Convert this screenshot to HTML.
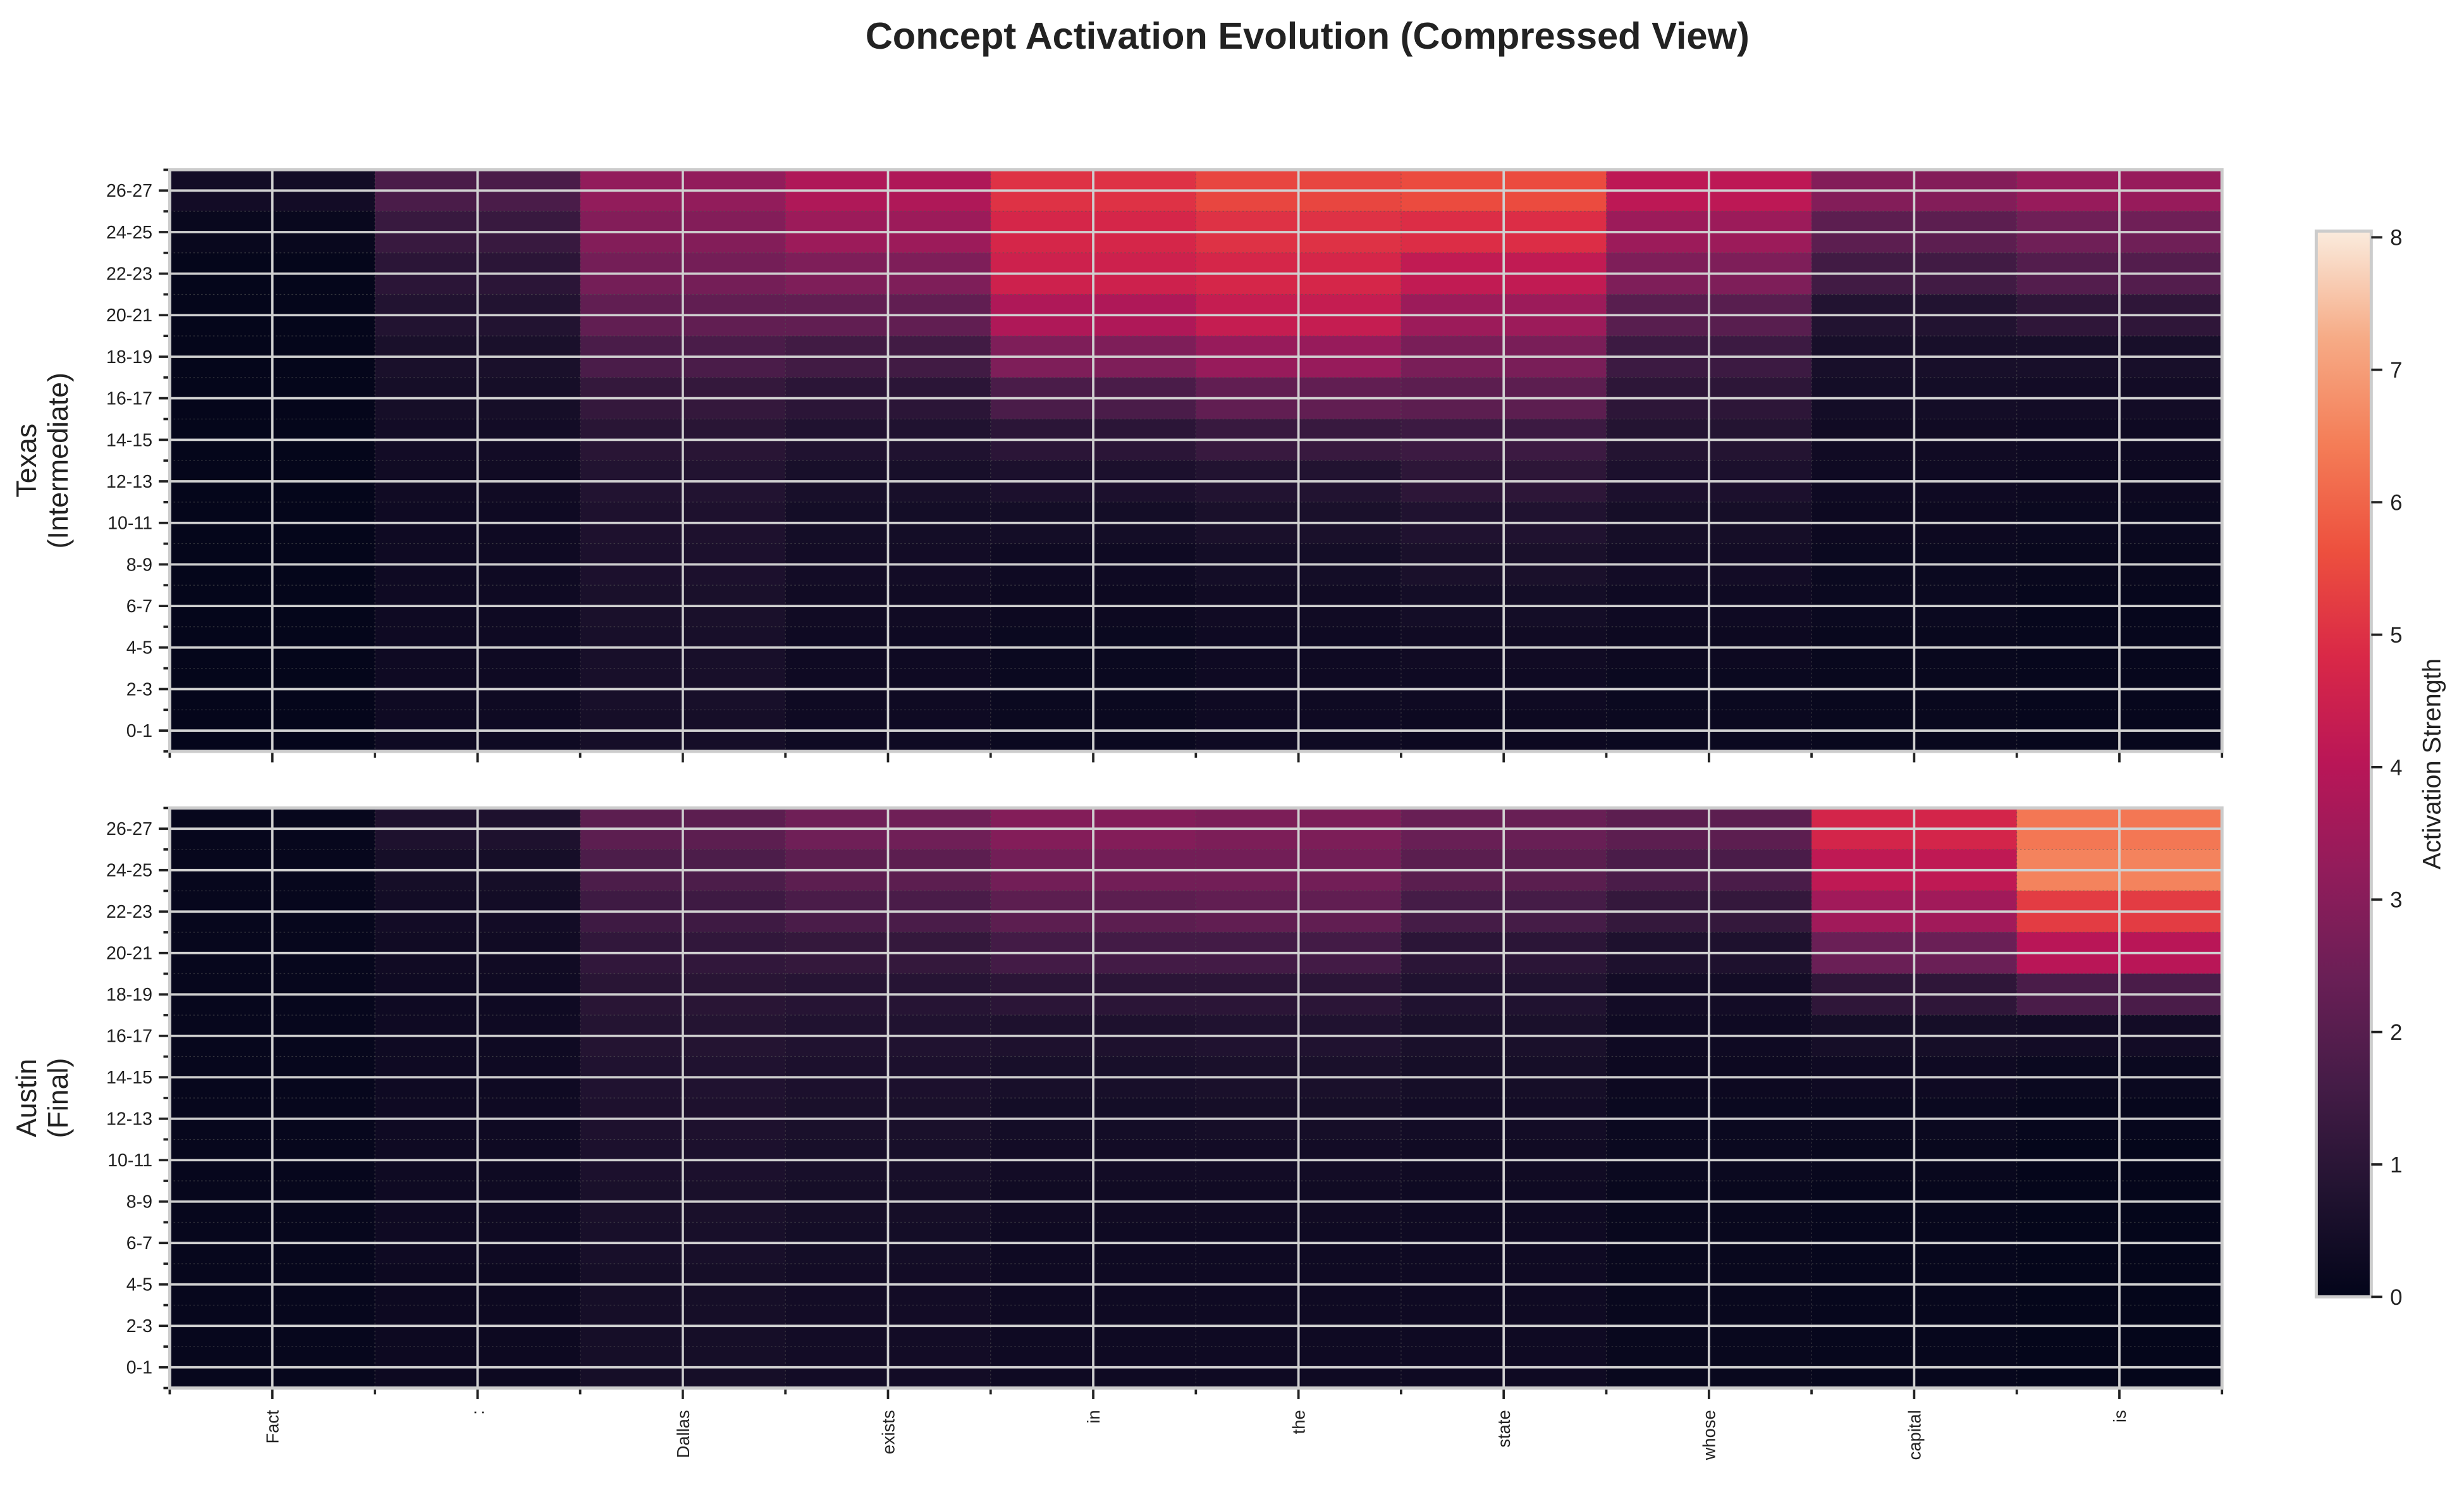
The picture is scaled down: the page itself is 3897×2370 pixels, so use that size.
<!DOCTYPE html>
<html><head><meta charset="utf-8"><style>html,body{margin:0;padding:0;background:#fff}svg{display:block}</style></head>
<body>
<svg id="chart" width="3897" height="2370" viewBox="0 0 1568 953.6" xmlns="http://www.w3.org/2000/svg" font-family="Liberation Sans, sans-serif">
<defs>
<linearGradient id="rocket" x1="0" y1="1" x2="0" y2="0">
<stop offset="0" stop-color="#03051A"/><stop offset="0.1" stop-color="#221331"/><stop offset="0.2" stop-color="#451C47"/><stop offset="0.3" stop-color="#6A1F56"/><stop offset="0.4" stop-color="#921C5B"/><stop offset="0.5" stop-color="#B91657"/><stop offset="0.6" stop-color="#D92847"/><stop offset="0.7" stop-color="#ED503E"/><stop offset="0.8" stop-color="#F47D57"/><stop offset="0.9" stop-color="#F6AB86"/><stop offset="1" stop-color="#FAEBDD"/>
</linearGradient>
</defs>
<text x="832" y="31" text-anchor="middle" font-size="24" font-weight="bold" fill="#222">Concept Activation Evolution (Compressed View)</text>
<g id="plots"></g>
<g>
<rect x="1474" y="147" width="35" height="678" fill="url(#rocket)" stroke="#ccc" stroke-width="2"/>
<g id="cbticks"></g>
<text transform="translate(1553,486) rotate(-90)" text-anchor="middle" font-size="16" fill="#222">Activation Strength</text>
</g>
</svg>
<script>
const tokens = ["Fact",":","Dallas","exists","in","the","state","whose","capital","is"];
const layerLabels = ["26-27","24-25","22-23","20-21","18-19","16-17","14-15","12-13","10-11","8-9","6-7","4-5","2-3","0-1"];
const cbTicks = [0,1,2,3,4,5,6,7,8];
// values per token, rows top (26-27) to bottom (0-1)
const texasFact = [0.4,0.15,0.05,0.05,0.05,0.05,0.05,0.05,0.05,0.05,0.05,0.05,0.05,0.05];
const texasColon = [1.7,1.3,1.0,0.8,0.6,0.5,0.4,0.35,0.3,0.3,0.3,0.3,0.3,0.3];
const texasDallas = [3.2,2.9,2.6,2.2,1.7,1.2,0.95,0.8,0.7,0.65,0.6,0.55,0.55,0.5];
const texasExists = [3.8,3.4,2.8,2.2,1.5,1.0,0.75,0.55,0.45,0.4,0.35,0.3,0.3,0.3];
const texasIn = [5.0,4.7,4.5,3.8,2.8,1.7,1.0,0.65,0.45,0.3,0.25,0.2,0.2,0.2];
const texasThe = [5.4,5.0,4.7,4.3,3.3,2.2,1.3,0.8,0.6,0.45,0.35,0.3,0.3,0.3];
const texasState = [5.5,4.9,4.2,3.4,2.7,2.1,1.4,1.05,0.75,0.6,0.45,0.35,0.3,0.25];
const texasWhose = [4.1,3.4,2.8,2.0,1.4,1.05,0.85,0.65,0.5,0.4,0.3,0.25,0.2,0.2];
const texasCapital = [2.9,2.1,1.5,0.8,0.55,0.45,0.35,0.3,0.25,0.2,0.2,0.15,0.15,0.15];
const texasIs = [3.3,2.5,1.9,1.1,0.55,0.4,0.3,0.25,0.2,0.15,0.1,0.1,0.1,0.1];
const austinFact = [0.1,0.1,0.1,0.1,0.1,0.1,0.1,0.1,0.1,0.1,0.1,0.1,0.1,0.1];
const austinColon = [0.7,0.5,0.4,0.35,0.3,0.3,0.3,0.3,0.3,0.3,0.3,0.25,0.25,0.25];
const austinDallas = [2.1,1.75,1.45,1.15,0.95,0.85,0.75,0.7,0.65,0.6,0.55,0.5,0.5,0.5];
const austinExists = [2.5,2.1,1.7,1.2,0.9,0.75,0.65,0.6,0.55,0.5,0.45,0.4,0.4,0.4];
const austinIn = [2.9,2.55,2.1,1.55,1.0,0.7,0.55,0.45,0.4,0.35,0.3,0.3,0.3,0.3];
const austinThe = [2.75,2.55,2.2,1.55,1.0,0.75,0.6,0.5,0.4,0.35,0.3,0.3,0.3,0.3];
const austinState = [2.35,2.05,1.6,1.0,0.75,0.6,0.5,0.4,0.35,0.3,0.3,0.3,0.3,0.3];
const austinWhose = [2.1,1.7,1.2,0.7,0.4,0.3,0.25,0.2,0.2,0.15,0.15,0.15,0.15,0.15];
const austinCapital = [4.65,4.15,3.5,2.4,1.1,0.5,0.3,0.2,0.15,0.1,0.1,0.1,0.1,0.1];
const austinIs = [6.3,6.5,5.2,4.0,1.7,0.4,0.2,0.1,0.05,0.05,0.05,0.05,0.05,0.05];

const texasData = [texasFact,texasColon,texasDallas,texasExists,texasIn,texasThe,texasState,texasWhose,texasCapital,texasIs];
const austinData = [austinFact,austinColon,austinDallas,austinExists,austinIn,austinThe,austinState,austinWhose,austinCapital,austinIs];

const NS="http://www.w3.org/2000/svg";
const stops=[[3,5,26],[34,19,49],[69,28,71],[106,31,86],[146,28,91],[185,22,87],[217,40,71],[237,80,62],[244,125,87],[246,171,134],[250,235,221]];
function color(v){let t=Math.max(0,Math.min(1,v/8))*10;let i=Math.min(9,Math.floor(t)),f=t-i;const a=stops[i],b=stops[i+1];return `rgb(${a.map((c,k)=>Math.round(c+(b[k]-c)*f)).join(',')})`;}
function mk(tag,attrs,parent){const e=document.createElementNS(NS,tag);for(const k in attrs)e.setAttribute(k,attrs[k]);parent.appendChild(e);return e;}
const X0=108,X1=1414,cw=(X1-X0)/tokens.length;
const xScale=i=>X0+i*cw;
const plots=document.getElementById('plots');
const panels=[{data:texasData,y0:108,y1:478,name:'texas-heatmap',label:['Texas','(Intermediate)'],xl:false},{data:austinData,y0:514,y1:883,name:'austin-heatmap',label:['Austin','(Final)'],xl:true}];
panels.forEach(p=>{
  const g=mk('g',{},plots);
  
  
  const rh=(p.y1-p.y0)/layerLabels.length;
  const yScale=r=>p.y0+r*rh;
  p.data.forEach((col,i)=>col.forEach((v,r)=>{
    const c=mk('rect',{x:xScale(i),y:yScale(r),width:cw+0.5,height:rh+0.5,fill:color(v)},g);
    
    
  }));
  for(let r=1;r<layerLabels.length;r++) mk('line',{x1:X0,x2:X1,y1:yScale(r),y2:yScale(r),stroke:'#555',"stroke-width":0.5,"stroke-dasharray":"1,1.5",opacity:0.6},g);
  for(let i=1;i<tokens.length;i++) mk('line',{x1:xScale(i),x2:xScale(i),y1:p.y0,y2:p.y1,stroke:'#555',"stroke-width":0.5,"stroke-dasharray":"1,1.5",opacity:0.6},g);
  layerLabels.forEach((l,r)=>{
    const y=yScale(r+0.5);
    mk('line',{x1:X0,x2:X1,y1:y,y2:y,stroke:'#d0d0d0',"stroke-width":1.5},g);
    mk('line',{x1:X0-7,x2:X0,y1:y,y2:y,stroke:'#222',"stroke-width":1.5},g);
    mk('line',{x1:X0-4,x2:X0,y1:yScale(r),y2:yScale(r),stroke:'#222',"stroke-width":1.5},g);
    const t=mk('text',{x:X0-11,y:y+4,"text-anchor":"end","font-size":11.5,fill:'#222'},g);t.textContent=l;
    
    
  });
  mk('line',{x1:X0-4,x2:X0,y1:p.y1,y2:p.y1,stroke:'#222',"stroke-width":1.5},g);
  tokens.forEach((tk,i)=>{
    const x=xScale(i+0.5);
    mk('line',{x1:x,x2:x,y1:p.y0,y2:p.y1,stroke:'#d0d0d0',"stroke-width":1.5},g);
    mk('line',{x1:x,x2:x,y1:p.y1,y2:p.y1+7,stroke:'#222',"stroke-width":1.5},g);
    mk('line',{x1:xScale(i),x2:xScale(i),y1:p.y1,y2:p.y1+4,stroke:'#222',"stroke-width":1.5},g);
    if(p.xl){const t=mk('text',{transform:`translate(${x+4},${p.y1+14}) rotate(-90)`,"text-anchor":"end","font-size":11,fill:'#222'},g);t.textContent=tk;
      
      }
  });
  mk('line',{x1:X1,x2:X1,y1:p.y1,y2:p.y1+4,stroke:'#222',"stroke-width":1.5},g);
  mk('rect',{x:X0,y:p.y0,width:X1-X0,height:p.y1-p.y0,fill:'none',stroke:'#ccc',"stroke-width":2},g);
  const cy=(p.y0+p.y1)/2;
  const yl=mk('text',{transform:`translate(27,${cy}) rotate(-90)`,"text-anchor":"middle","font-size":18,fill:'#222'},g);
  
  
  const a=mk('tspan',{x:0,dy:-4},yl);a.textContent=p.label[0];
  const b=mk('tspan',{x:0,dy:20},yl);b.textContent=p.label[1];
});
const cbg=document.getElementById('cbticks');
const cbY=v=>825-v*(825-151)/8;
cbTicks.forEach(v=>{
  mk('line',{x1:1509,x2:1516,y1:cbY(v),y2:cbY(v),stroke:'#222',"stroke-width":1.5},cbg);
  const t=mk('text',{x:1521,y:cbY(v)+5,"font-size":14,fill:'#222'},cbg);t.textContent=v;
  
  
});
</script>
</body></html>
